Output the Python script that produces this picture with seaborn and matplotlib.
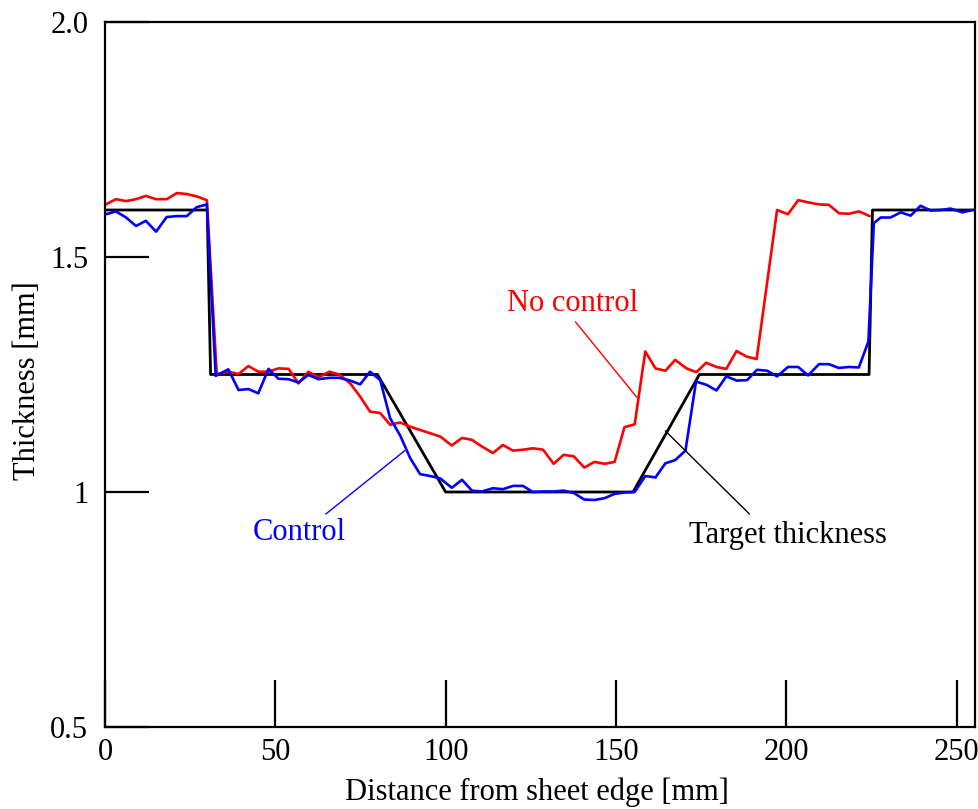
import matplotlib
matplotlib.use("Agg")
import matplotlib.pyplot as plt
import seaborn as sns
import pandas as pd

# Target thickness profile
target_x = [0, 30, 31, 80, 100, 155, 174.5, 224.3, 225.3, 256]
target_y = [1.6, 1.6, 1.25, 1.25, 1.0, 1.0, 1.25, 1.25, 1.6, 1.6]

# No control (red)
nocontrol_x = [0.3, 3.2, 6.2, 9.1, 12.0, 15.0, 18.1, 21.1, 24.0, 26.9, 29.9,
               32.8, 36.2, 39.2, 42.1, 45.0, 48.0, 50.9, 53.9, 56.8, 59.7, 62.7, 65.9, 68.8,
               72.0, 74.9, 77.8, 80.8, 83.7, 86.6, 89.6, 92.5, 95.5, 98.4, 101.8, 104.8, 107.7,
               110.6, 113.9, 116.8, 119.8, 122.7, 125.6, 128.6, 131.7, 134.6, 137.6, 140.7, 143.7,
               146.7, 149.6, 152.5, 155.5,
               158.6, 161.6, 164.5, 167.4, 170.7, 173.6, 176.5, 179.5, 182.4, 185.4, 188.4, 191.3,
               197.3, 200.5, 203.5, 206.6, 209.6, 212.5, 215.5, 218.4, 221.4, 224.5]
nocontrol_y = [1.612, 1.623, 1.619, 1.623, 1.630, 1.623, 1.623, 1.636, 1.634, 1.629, 1.621,
               1.251, 1.256, 1.251, 1.268, 1.256, 1.256, 1.263, 1.262, 1.231, 1.256, 1.244, 1.256, 1.250,
               1.231, 1.203, 1.171, 1.168, 1.143, 1.148, 1.139, 1.132, 1.125, 1.118, 1.099, 1.115, 1.111,
               1.097, 1.083, 1.100, 1.088, 1.090, 1.093, 1.090, 1.060, 1.079, 1.076, 1.052, 1.064,
               1.060, 1.064, 1.138, 1.144,
               1.299, 1.263, 1.258, 1.281, 1.263, 1.255, 1.275, 1.266, 1.262, 1.300, 1.288, 1.283,
               1.600, 1.591, 1.621, 1.616, 1.612, 1.611, 1.593, 1.592, 1.597, 1.587]

# Control (blue)
control_x = [0.3, 3.2, 6.2, 9.1, 12.0, 15.0, 18.1, 21.1, 24.0, 26.9, 29.9,
             32.5, 36.2, 39.2, 42.1, 45.0, 48.0, 50.9, 53.9, 56.8, 59.7, 62.7, 65.9, 68.8, 72.0,
             74.9, 77.8, 80.8,
             83.7, 86.6, 89.6, 92.5, 95.5, 98.4, 101.8, 104.8, 107.7, 110.6, 113.9, 116.8, 119.8,
             122.7, 125.6, 128.6, 131.7, 134.6, 137.6, 140.7, 143.7, 146.7, 149.6, 152.5, 155.5,
             158.6, 161.6, 164.5, 167.4, 170.4,
             173.5, 176.6, 179.5, 182.4, 185.5, 188.5, 191.4, 194.4, 197.3, 200.5, 203.5, 206.4,
             209.6, 212.5, 215.4, 218.4, 221.3, 224.1,
             225.7, 227.7, 230.6, 233.6, 236.5, 239.4, 242.4, 245.3, 248.2, 251.7, 254.6]
control_y = [1.591, 1.597, 1.584, 1.566, 1.577, 1.554, 1.585, 1.587, 1.587, 1.606, 1.612,
             1.247, 1.261, 1.217, 1.219, 1.210, 1.262, 1.241, 1.240, 1.233, 1.249, 1.240, 1.243, 1.243, 1.237,
             1.229, 1.256, 1.238,
             1.157, 1.121, 1.072, 1.038, 1.034, 1.029, 1.009, 1.026, 1.003, 1.001, 1.008, 1.006, 1.013,
             1.013, 1.000, 1.001, 1.001, 1.003, 0.998, 0.984, 0.983, 0.987, 0.996, 0.999, 1.000,
             1.034, 1.031, 1.061, 1.068, 1.088,
             1.235, 1.228, 1.216, 1.246, 1.237, 1.238, 1.260, 1.258, 1.246, 1.266, 1.266, 1.248,
             1.272, 1.272, 1.264, 1.266, 1.265, 1.320,
             1.572, 1.584, 1.584, 1.595, 1.588, 1.609, 1.599, 1.600, 1.603, 1.595, 1.600]

x_ticks = [0, 50, 100, 150, 200, 250]
x_tick_labels = ["0", "50", "100", "150", "200", "250"]
y_ticks = [0.5, 1.0, 1.5, 2.0]
y_tick_labels = ["0.5", "1", "1.5", "2.0"]

sns.set_style("white")
plt.rcParams['font.family'] = ['Liberation Serif', 'DejaVu Serif']
plt.rcParams['text.color'] = 'black'
plt.rcParams['axes.labelcolor'] = 'black'
plt.rcParams['xtick.color'] = 'black'
plt.rcParams['ytick.color'] = 'black'
plt.rcParams['axes.edgecolor'] = 'black'

fig = plt.figure(figsize=(9.79, 8.09), dpi=100)
ax = fig.add_axes([105/979, 1 - 727/809, 870/979, 705/809])

df_t = pd.DataFrame({"x": target_x, "y": target_y})
df_n = pd.DataFrame({"x": nocontrol_x, "y": nocontrol_y})
df_c = pd.DataFrame({"x": control_x, "y": control_y})

sns.lineplot(data=df_t, x="x", y="y", ax=ax, color="black", lw=2.0, sort=False, estimator=None)
sns.lineplot(data=df_n, x="x", y="y", ax=ax, color="#ff0000", lw=1.9, sort=False, estimator=None)
sns.lineplot(data=df_c, x="x", y="y", ax=ax, color="#0000ff", lw=1.9, sort=False, estimator=None)

ax.set_xlim(0, 255.4)
ax.set_ylim(0.5, 2.0)
ax.set_xticks(x_ticks)
ax.set_xticklabels(x_tick_labels)
ax.set_yticks(y_ticks)
ax.set_yticklabels(y_tick_labels)
ax.tick_params(axis='both', direction='in', width=1.6, labelsize=22, colors='black',
               bottom=True, left=True, top=False, right=False)
ax.tick_params(axis='y', length=32, pad=12)
ax.tick_params(axis='x', length=34, pad=8)

for s in ax.spines.values():
    s.set_visible(True)
    s.set_color('black')
    s.set_linewidth(1.6)

ax.set_xlabel("Distance from sheet edge [mm]", fontsize=22)
ax.set_ylabel("Thickness [mm]", fontsize=22)
ax.xaxis.set_label_coords(0.496, -0.071)
ax.yaxis.set_label_coords(-0.072, 0.492)

# Labels with leader lines
ax.text(137.4, 1.385, "No control", color="#ff0000", fontsize=22, ha="center", va="baseline")
ax.annotate("", xy=(156.2, 1.201), xytext=(138.1, 1.362),
            arrowprops=dict(arrowstyle="-", color="#ff0000", lw=1.0, shrinkA=0, shrinkB=0))

ax.text(57.1, 0.898, "Control", color="#0000ff", fontsize=22, ha="center", va="baseline")
ax.annotate("", xy=(88.0, 1.088), xytext=(64.8, 0.953),
            arrowprops=dict(arrowstyle="-", color="#0000ff", lw=1.0, shrinkA=0, shrinkB=0))

ax.text(200.6, 0.892, "Target thickness", color="black", fontsize=22, ha="center", va="baseline")
ax.annotate("", xy=(164.5, 1.130), xytext=(189.2, 0.953),
            arrowprops=dict(arrowstyle="-", color="black", lw=1.0, shrinkA=0, shrinkB=0))

fig.savefig("out.png", dpi=100)
